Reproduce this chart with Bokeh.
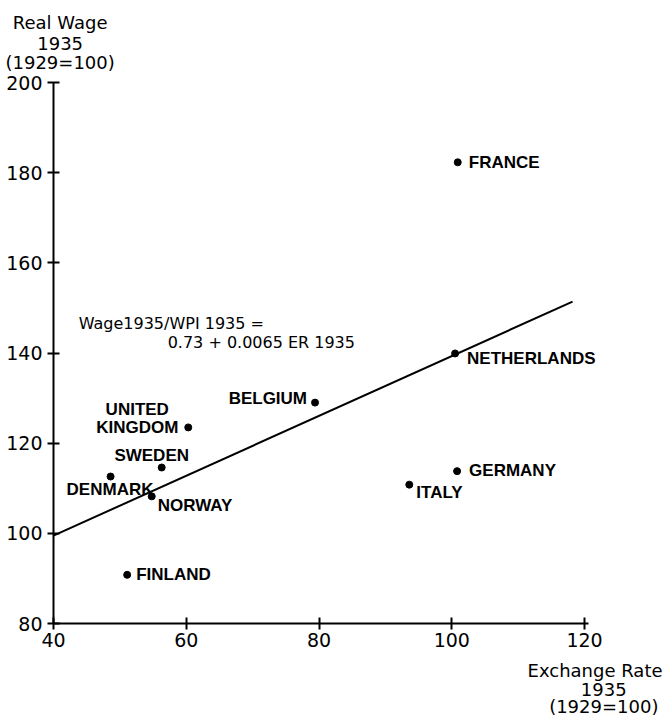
from bokeh.plotting import figure
from bokeh.models import Range1d, Label, FixedTicker, LinearAxis
from bokeh.embed import file_html
from bokeh.resources import INLINE

# ---- data ----
countries = ["FRANCE", "NETHERLANDS", "GERMANY", "ITALY", "BELGIUM",
             "UNITED KINGDOM", "SWEDEN", "DENMARK", "NORWAY", "FINLAND"]
exchange_rate = [100.9, 100.5, 100.8, 93.6, 79.4, 60.3, 56.3, 48.6, 54.8, 51.1]
real_wage = [182.3, 139.9, 113.8, 110.8, 129.0, 123.5, 114.6, 112.6, 108.2, 90.8]

fit_x = [40, 118.2]
fit_y = [99.5, 151.4]

x_ticks = [40, 60, 80, 100, 120]
y_ticks = [80, 100, 120, 140, 160, 180, 200]

# label placement (screen px: dx right, dy down, alignment)
label_style = {
    "FRANCE": (11, 0, "left"),
    "NETHERLANDS": (12, 5, "left"),
    "GERMANY": (12, -1, "left"),
    "ITALY": (7, 8, "left"),
    "BELGIUM": (-8, -4, "right"),
    "SWEDEN": (-10, -12, "center"),
    "DENMARK": (-44, 13, "left"),
    "NORWAY": (6, 9, "left"),
    "FINLAND": (9, 0, "left"),
}

BOLD_FONT = "Liberation Sans"
FONT = "DejaVu Sans"
INK = "black"

# the frame covers the whole canvas; axes sit at fixed data locations
p = figure(width=666, height=718,
           x_range=Range1d(32.015, 132.35), y_range=Range1d(58.93, 218.19),
           x_axis_location=None, y_axis_location=None,
           output_backend="svg", toolbar_location=None, min_border=0)
p.outline_line_color = None
p.grid.visible = False
p.background_fill_color = "white"
p.border_fill_color = "white"

xaxis = LinearAxis(fixed_location=80, bounds=(40, 120.6), ticker=FixedTicker(ticks=x_ticks))
yaxis = LinearAxis(fixed_location=40, bounds=(80, 200), ticker=FixedTicker(ticks=y_ticks))
for ax in (xaxis, yaxis):
    ax.axis_line_width = 2
    ax.axis_line_color = INK
    ax.major_tick_line_width = 2
    ax.major_tick_line_color = INK
    ax.major_tick_in = 6
    ax.major_tick_out = 6
    ax.minor_tick_line_color = None
    ax.major_label_text_font = FONT
    ax.major_label_text_font_size = "19px"
    ax.major_label_text_color = INK
yaxis.major_label_standoff = 5
xaxis.major_label_standoff = 3
p.add_layout(xaxis, "below")
p.add_layout(yaxis, "left")

# regression line
p.line(fit_x, fit_y, line_width=2, color=INK)

# points
p.scatter(exchange_rate, real_wage, size=7, color=INK)


def lab(x, y, text, align="left", dx=0, dy=0, size="17px", style="bold", font=BOLD_FONT):
    p.add_layout(Label(x=x, y=y, text=text, x_offset=dx, y_offset=-dy,
                       text_align=align, text_baseline="middle",
                       text_font=font, text_font_style=style,
                       text_font_size=size, text_color=INK))


# point labels
for name, xv, yv in zip(countries, exchange_rate, real_wage):
    if name == "UNITED KINGDOM":
        lab(xv, yv, "UNITED", "center", -51, -18)
        lab(xv, yv, "KINGDOM", "center", -51, 0)
        continue
    dx, dy, align = label_style[name]
    lab(xv, yv, name, align, dx, dy)

# equation
lab(43.8, 146.5, "Wage1935/WPI 1935 =", "left", size="16px", style="normal", font=FONT)
lab(57.2, 142.3, "0.73 + 0.0065 ER 1935", "left", size="16px", style="normal", font=FONT)

# axis titles
for txt, yv in (("Real Wage", 213.3), ("1935", 208.7), ("(1929=100)", 204.4)):
    lab(41.0, yv, txt, "center", size="18px", style="normal", font=FONT)

lab(131.75, 69.6, "Exchange Rate", "right", size="18px", style="normal", font=FONT)
for txt, yv in (("1935", 65.3), ("(1929=100)", 61.6)):
    lab(122.9, yv, txt, "center", size="18px", style="normal", font=FONT)

open("out.html", "w").write(file_html(p, INLINE))
